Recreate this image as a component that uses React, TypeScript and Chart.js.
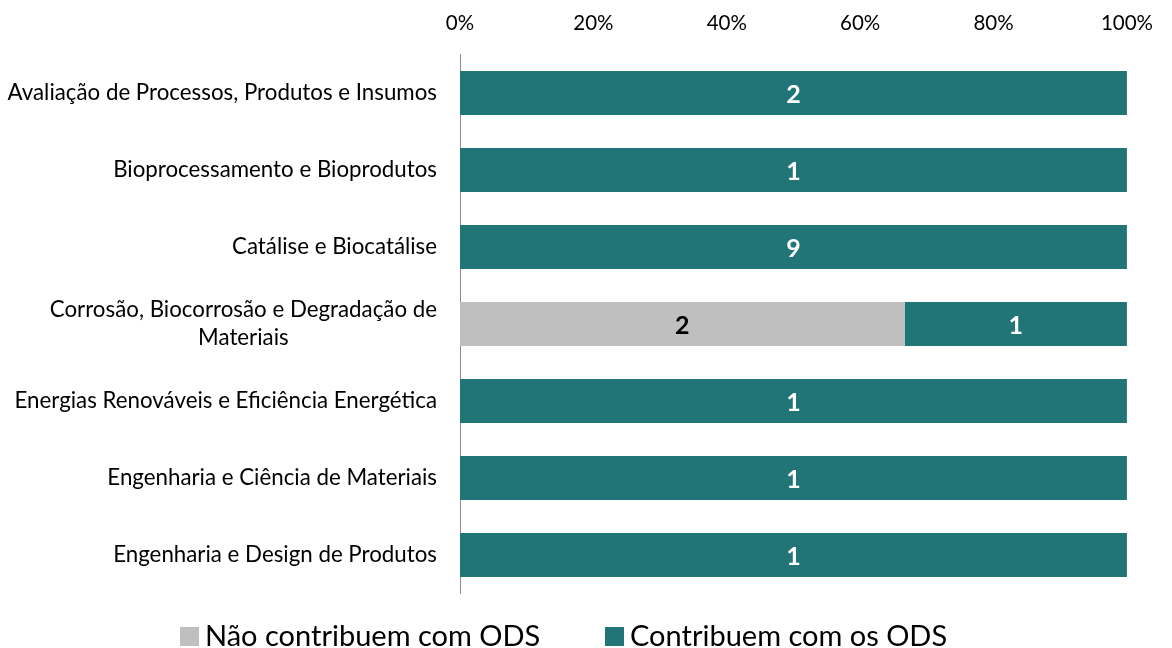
import React, { useEffect, useRef } from "react";
import { Chart, registerables } from "chart.js";

Chart.register(...registerables);

const categories: string[][] = [
  ["Avaliação de Processos, Produtos e Insumos"],
  ["Bioprocessamento e Bioprodutos"],
  ["Catálise e Biocatálise"],
  ["Corrosão, Biocorrosão e Degradação de", "Materiais"],
  ["Energias Renováveis e Eficiência Energética"],
  ["Engenharia e Ciência de Materiais"],
  ["Engenharia e Design de Produtos"],
];
const naoContribuem: number[] = [0, 0, 0, 2, 0, 0, 0];
const contribuem: number[] = [2, 1, 9, 1, 1, 1, 1];
const seriesNames: string[] = ["Não contribuem com ODS", "Contribuem com os ODS"];
const seriesColors: string[] = ["#BFBFBF", "#227577"];
const labelColors: string[] = ["#000000", "#FFFFFF"];
const tickValues: number[] = [0, 20, 40, 60, 80, 100];

const FONT = "Lato, 'Open Sans', sans-serif";

function fitSize(text: string, target: number, weight = "normal"): number {
  const c = document.createElement("canvas").getContext("2d")!;
  c.font = `${weight} 100px ${FONT}`;
  const w = c.measureText(text).width;
  return Math.round((100 * target) / w * 10) / 10;
}

export default function App() {
  const ref = useRef<HTMLCanvasElement | null>(null);

  useEffect(() => {
    if (!ref.current) return;
    const catSize = fitSize(categories[0][0], 429);
    const tickSize = fitSize("100%", 52);
    const legSize = fitSize(seriesNames[0], 335);
    const valSize = 25;

    const totals = categories.map((_, i) => naoContribuem[i] + contribuem[i]);
    const counts = [naoContribuem, contribuem];
    const pct = counts.map((arr) => arr.map((v, i) => (v / totals[i]) * 100));

    const customPlugin = {
      id: "custom",
      afterDatasetsDraw(chart: any) {
        const ctx = chart.ctx;
        ctx.save();
        ctx.font = `bold ${valSize}px ${FONT}`;
        ctx.textAlign = "center";
        ctx.textBaseline = "middle";
        chart.data.datasets.forEach((ds: any, di: number) => {
          const meta = chart.getDatasetMeta(di);
          meta.data.forEach((bar: any, i: number) => {
            const c = counts[di][i];
            if (!c) return;
            const { x, base, y } = bar.getProps(["x", "base", "y"], true);
            ctx.fillStyle = labelColors[di];
            ctx.fillText(String(c), (x + base) / 2, y + 1.5);
          });
        });
        ctx.restore();
      },
      afterDraw(chart: any) {
        const ctx = chart.ctx;
        const yScale = chart.scales.y;
        ctx.save();
        ctx.font = `${catSize}px ${FONT}`;
        ctx.fillStyle = "#000000";
        ctx.textBaseline = "middle";
        const rightX = 437;
        const lh = 28;
        categories.forEach((lines, i) => {
          const cy = yScale.getPixelForValue(i);
          const maxW = Math.max(...lines.map((l) => ctx.measureText(l).width));
          const cx = rightX - maxW / 2;
          ctx.textAlign = "center";
          lines.forEach((l, li) => {
            const ly = cy + (li - (lines.length - 1) / 2) * lh;
            ctx.fillText(l, cx, ly);
          });
        });
        // legend
        ctx.font = `${legSize}px ${FONT}`;
        ctx.textAlign = "left";
        const ly = 637;
        const items = [
          { x: 180, name: seriesNames[0], color: seriesColors[0] },
          { x: 605, name: seriesNames[1], color: seriesColors[1] },
        ];
        items.forEach((it) => {
          ctx.fillStyle = it.color;
          ctx.fillRect(it.x, ly - 10, 19, 19);
          ctx.fillStyle = "#000000";
          ctx.fillText(it.name, it.x + 25, ly);
        });
        ctx.restore();
      },
    };

    const chart = new Chart(ref.current, {
      type: "bar",
      data: {
        labels: categories.map((c) => c.join(" ")),
        datasets: seriesNames.map((name, di) => ({
          label: name,
          data: pct[di],
          backgroundColor: seriesColors[di],
          borderWidth: 0,
          barPercentage: 0.57,
          categoryPercentage: 1,
        })),
      },
      options: {
        indexAxis: "y",
        responsive: false,
        animation: false,
        maintainAspectRatio: false,
        layout: { padding: { left: 0, right: 41, top: 0, bottom: 54.5 } },
        plugins: {
          legend: { display: false },
          tooltip: { enabled: false },
        },
        scales: {
          x: {
            position: "top",
            stacked: true,
            min: 0,
            max: 100,
            afterBuildTicks(scale: any) {
              scale.ticks = tickValues.map((v) => ({ value: v }));
            },
            afterFit(scale: any) {
              scale.height = 54.5;
            },
            grid: { display: false, drawTicks: false },
            border: { display: false },
            ticks: {
              padding: 19,
              color: "#000000",
              font: { family: FONT, size: tickSize },
              maxRotation: 0,
              callback: (v: any) => `${v}%`,
            },
          },
          y: {
            stacked: true,
            afterFit(scale: any) {
              scale.width = 460;
            },
            grid: { display: false, drawTicks: false },
            border: { display: true, color: "#8C8C8C", width: 1 },
            ticks: { display: false },
          },
        },
      },
      plugins: [customPlugin],
    } as any);
    return () => chart.destroy();
  }, []);

  return (
    <div style={{ position: "fixed", left: 0, top: 0, width: 1172, height: 648, background: "#fff" }}>
      <canvas ref={ref} width={1172} height={648} style={{ display: "block" }} />
    </div>
  );
}
